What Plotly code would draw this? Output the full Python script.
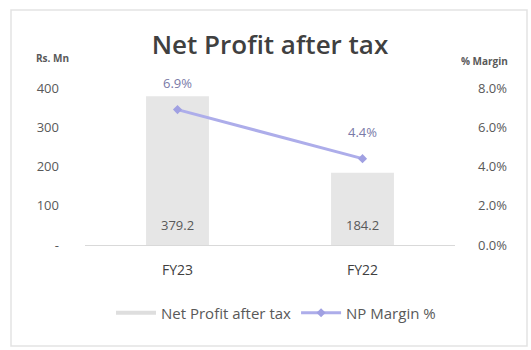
import plotly.graph_objects as go

# Net profit after tax (Rs. Mn) and NP margin (%) by fiscal year
years = ["FY23", "FY22"]
net_profit = [379.2, 184.2]
np_margin = [6.9, 4.4]

left_ticks = [0, 100, 200, 300, 400]
left_ticktext = ["-", "100", "200", "300", "400"]
right_ticks = [0, 2, 4, 6, 8]
right_ticktext = ["0.0%", "2.0%", "4.0%", "6.0%", "8.0%"]

FONT = "Open Sans, Liberation Sans, sans-serif"
GREY = "#595959"
BAR_COLOR = "#e6e6e6"
LINE_COLOR = "#adadea"

# plot-area geometry (pixels) used to place paper-referenced decorations
W, H = 531, 350
L, R, T, B = 85, 455, 88, 245


def px_x(p):
    return (p - L) / (R - L)


def px_y(p):
    return (B - p) / (B - T)


fig = go.Figure()

fig.add_trace(go.Bar(
    x=years, y=net_profit, name="Net Profit after tax",
    marker=dict(color=BAR_COLOR, line=dict(width=0)),
    width=0.34, showlegend=False,
    yaxis="y",
))

# legend key for the bars, drawn as a short grey band
fig.add_trace(go.Scatter(
    x=[None], y=[None], name="Net Profit after tax",
    mode="lines", line=dict(color="#dedede", width=4),
    yaxis="y",
))

fig.add_trace(go.Scatter(
    x=years, y=np_margin, name="NP Margin %",
    mode="lines+markers",
    line=dict(color=LINE_COLOR, width=3),
    marker=dict(color="#a0a0e2", size=7, symbol="diamond"),
    yaxis="y2",
))

annotations = [
    dict(text="<b>Rs. Mn</b>", xref="paper", yref="paper",
         x=px_x(52), y=px_y(58), xanchor="center", yanchor="middle",
         showarrow=False, font=dict(family=FONT, size=10, color=GREY)),
    dict(text="<b>% Margin</b>", xref="paper", yref="paper",
         x=px_x(510), y=px_y(61), xanchor="right", yanchor="middle",
         showarrow=False, font=dict(family=FONT, size=10, color=GREY)),
]

# value labels near the base of each bar
for yr, v in zip(years, net_profit):
    annotations.append(dict(
        x=yr, y=0, xref="x", yref="y", text=f"{v:.1f}",
        showarrow=False, yanchor="middle", yshift=20,
        font=dict(family=FONT, size=13, color=GREY)))

# margin labels above each point of the line
for yr, v in zip(years, np_margin):
    annotations.append(dict(
        x=yr, y=v, xref="x", yref="y2", text=f"{v:.1f}%",
        showarrow=False, yanchor="middle", yshift=27,
        font=dict(family=FONT, size=13, color="#7a7aa8")))

fig.update_layout(
    width=W, height=H,
    margin=dict(l=L, r=W - R, t=T, b=H - B, autoexpand=False),
    paper_bgcolor="white", plot_bgcolor="white",
    font=dict(family=FONT, color=GREY),
    title=dict(text="Net Profit after tax", x=270 / W, xanchor="center",
               y=1 - 45 / H, yanchor="middle",
               font=dict(family=FONT, size=26, color="#404040", weight=600)),
    xaxis=dict(
        showgrid=False, showline=True, linecolor="#d9d9d9", linewidth=1,
        ticks="", tickangle=0,
        tickfont=dict(family=FONT, size=14, color="#404040"),
        ticklabelstandoff=12,
    ),
    yaxis=dict(
        range=[0, 400], tickvals=left_ticks, ticktext=left_ticktext,
        showgrid=False, zeroline=False, showline=False, ticks="",
        tickfont=dict(family=FONT, size=13, color=GREY),
        ticklabelstandoff=25,
    ),
    yaxis2=dict(
        range=[0, 8], tickvals=right_ticks, ticktext=right_ticktext,
        overlaying="y", side="right",
        showgrid=False, zeroline=False, showline=False, ticks="",
        tickfont=dict(family=FONT, size=13, color=GREY),
        ticklabelstandoff=22,
    ),
    legend=dict(
        orientation="h", x=px_x(276), xanchor="center",
        y=px_y(313), yanchor="middle",
        font=dict(family=FONT, size=15, color=GREY),
        itemwidth=40, bgcolor="rgba(0,0,0,0)",
        tracegroupgap=0,
    ),
    showlegend=True,
    annotations=annotations,
    shapes=[
        dict(type="rect", xref="paper", yref="paper",
             x0=px_x(11), x1=px_x(527), y0=px_y(346), y1=px_y(10),
             line=dict(color="#e3e3e3", width=1.5), fillcolor="rgba(0,0,0,0)",
             layer="below"),
    ],
)

fig.write_html("out.html")
